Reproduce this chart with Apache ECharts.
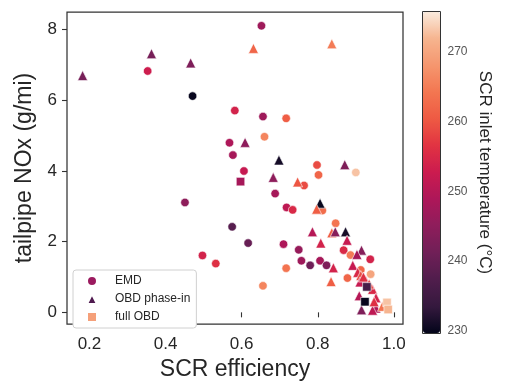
<!DOCTYPE html>
<html><head><meta charset="utf-8">
<script src="https://cdn.jsdelivr.net/npm/echarts@6/dist/echarts.min.js"></script>
<style>html,body{margin:0;padding:0;background:#fff}#c{width:505px;height:386px}</style>
</head><body><div id="c"></div>
<script>
// [SCR efficiency, tailpipe NOx (g/mi), SCR inlet temperature (°C)]
const emd = [
 [0.353,6.83,253],[0.471,6.12,230],[0.582,5.71,254],[0.568,4.80,249],[0.577,4.45,248],
 [0.652,8.11,247],[0.656,5.54,247],[0.717,5.49,261],[0.660,4.97,266],[0.606,4.00,252],
 [0.451,3.11,245],[0.575,2.42,238],[0.617,1.96,240],[0.497,1.61,254],[0.532,1.38,256],
 [0.798,4.17,259],[0.900,3.96,273],[0.802,3.89,262],[0.764,3.59,259],[0.688,3.36,248],
 [0.718,2.97,251],[0.734,2.90,255],[0.812,2.88,263],[0.847,2.52,264],[0.710,1.93,249],
 [0.750,1.77,246],[0.868,1.76,255],[0.886,1.62,265],[0.938,1.50,254],[0.757,1.46,247],
 [0.780,1.33,241],[0.806,1.46,248],[0.823,1.33,243],[0.717,1.25,264],[0.878,0.97,262],
 [0.656,0.75,266],[0.913,1.20,262],[0.939,1.08,270]
];
const obdPhaseIn = [
 [0.182,6.70,242],[0.363,7.32,242],[0.466,7.06,243],[0.609,4.81,245],[0.631,7.47,262],
 [0.837,7.60,265],[0.698,4.31,231],[0.871,4.18,243],[0.683,3.82,245],[0.747,3.69,260],
 [0.806,3.09,230],[0.797,2.92,261],[0.837,2.25,261],[0.846,2.28,244],[0.873,2.28,231],
 [0.786,2.28,250],[0.877,2.04,252],[0.808,1.96,254],[0.915,1.76,244],[0.903,1.64,248],
 [0.841,1.26,254],[0.892,1.33,252],[0.835,0.87,261],[0.905,1.13,255],[0.913,1.04,259],
 [0.926,0.90,254],[0.911,0.86,252],[0.920,1.00,256],[0.944,0.65,255],[0.909,0.47,250],
 [0.953,0.41,254],[0.915,0.07,243],[0.953,0.12,249],[0.944,0.06,251],[0.970,0.17,264],
 [0.948,0.30,256],[0.935,0.80,258]
];
const fullObd = [
 [0.597,3.70,248],[0.929,0.72,236],[0.924,0.30,230],[0.982,0.28,273],[0.985,0.08,272]
];
const xTicks = [0.2,0.4,0.6,0.8,1.0];
const yTicks = [0,2,4,6,8];
const tempTicks = [230,240,250,260,270];
const rocket = ['#03051a','#35193e','#501d4c','#701f57','#8e1d5b','#ad1759','#cb1b4f',
  '#e13342','#ee5a43','#f37651','#f5966e','#f6b48f','#faebdd'];

const FONT = 'Liberation Sans, Arial, sans-serif';
const chart = echarts.init(document.getElementById('c'));
const edge = {borderColor:'#ffffff', borderWidth:0.6, opacity:1};
chart.setOption({
  animation:false,
  textStyle:{fontFamily:FONT},
  grid:[
    {left:67, top:12, width:336, height:321, show:true, borderColor:'#333', borderWidth:1.25, backgroundColor:'transparent'},
    {left:422.5, top:11.5, width:18, height:322, show:true, borderColor:'#333', borderWidth:1, backgroundColor:'transparent'}
  ],
  xAxis:[
    {gridIndex:0, type:'value', min:0.141, max:1.024, splitLine:{show:false},
     axisLine:{show:false},
     axisTick:{show:true, length:5, lineStyle:{color:'#333', width:1.1}, customValues:xTicks},
     axisLabel:{fontSize:17, color:'#262626', margin:12, customValues:xTicks, formatter:v=>v.toFixed(1)},
     name:'SCR efficiency', nameLocation:'middle', nameGap:34,
     nameTextStyle:{fontSize:23, color:'#262626'}},
    {gridIndex:1, type:'value', min:0, max:1, show:false}
  ],
  yAxis:[
    {gridIndex:0, type:'value', min:-0.33, max:8.5, splitLine:{show:false},
     axisLine:{show:false},
     axisTick:{show:true, length:5, lineStyle:{color:'#333', width:1.1}, customValues:yTicks},
     axisLabel:{fontSize:17, color:'#262626', margin:10, customValues:yTicks},
     name:'tailpipe NOx (g/mi)', nameLocation:'middle', nameGap:25,
     nameTextStyle:{fontSize:23, color:'#262626'}},
    {gridIndex:1, type:'value', position:'right', min:229.6, max:275.8, splitLine:{show:false},
     axisLine:{show:false},
     axisTick:{show:true, length:4, lineStyle:{color:'#333', width:1}, customValues:tempTicks},
     axisLabel:{fontSize:12, color:'#555', margin:7, customValues:tempTicks},
     name:'SCR inlet temperature (°C)', nameLocation:'middle', nameRotate:-90, nameGap:36,
     nameTextStyle:{fontSize:17, color:'#262626'}}
  ],
  visualMap:{
    type:'continuous', dimension:2, min:229.6, max:275.8, seriesIndex:[0,1,2],
    inRange:{color:rocket}, left:423, top:12, itemWidth:17, itemHeight:321,
    padding:0, calculable:false, text:null, showLabel:false, hoverLink:false, realtime:false
  },
  legend:{
    orient:'vertical', left:73, top:270, backgroundColor:'#fff', borderColor:'#d0d0d0',
    borderWidth:1, borderRadius:3, padding:[5,6,5,13], itemGap:6, itemWidth:10, itemHeight:10,
    textStyle:{fontSize:12, color:'#262626', padding:[0,0,0,13]},
    data:[
      {name:'EMD', icon:'circle', itemStyle:{color:'#9b1a5f'}},
      {name:'OBD phase-in', icon:'triangle', itemStyle:{color:'#4f1a4f'}},
      {name:'full OBD', icon:'rect', itemStyle:{color:'#f5a07a'}}
    ]
  },
  series:[
    {name:'EMD', type:'scatter', xAxisIndex:0, yAxisIndex:0, symbol:'circle', symbolSize:8.5, data:emd, itemStyle:edge},
    {name:'OBD phase-in', type:'scatter', xAxisIndex:0, yAxisIndex:0, symbol:'triangle', symbolSize:10, data:obdPhaseIn, itemStyle:edge},
    {name:'full OBD', type:'scatter', xAxisIndex:0, yAxisIndex:0, symbol:'rect', symbolSize:8.5, data:fullObd, itemStyle:edge}
  ]
});
</script></body></html>
